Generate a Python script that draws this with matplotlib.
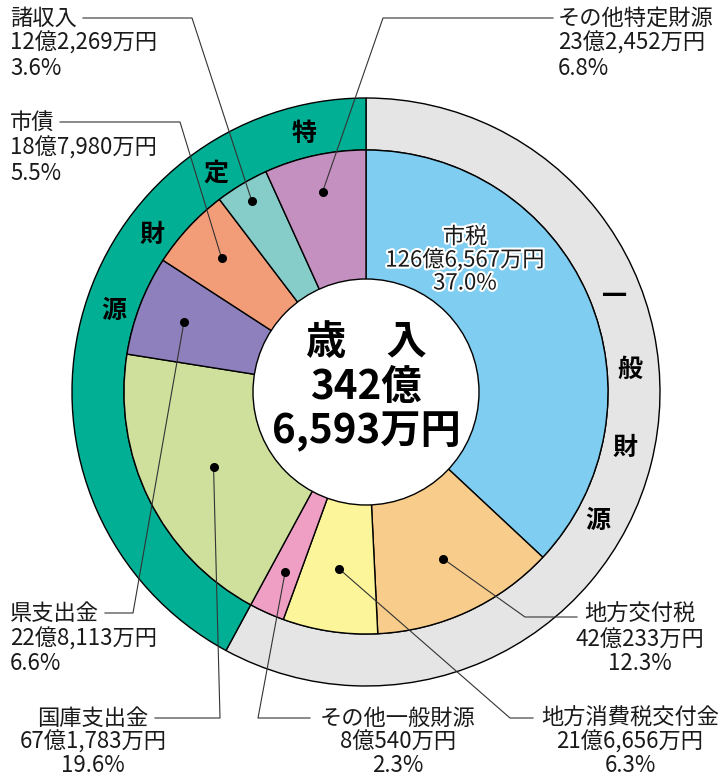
import numpy as np
import matplotlib
matplotlib.use("Agg")
import matplotlib.pyplot as plt
from matplotlib.patches import Circle
import matplotlib.patheffects as pe

plt.rcParams['font.family'] = ['Noto Sans CJK JP', 'DejaVu Sans']

# ---- data ----
categories = ["市税", "地方交付税", "地方消費税交付金", "その他一般財源",
              "国庫支出金", "県支出金", "市債", "諸収入", "その他特定財源"]
amounts_man = [1266567, 420233, 216656, 80540,
               671783, 228113, 187980, 122269, 232452]   # 万円
percents = [37.0, 12.3, 6.3, 2.3, 19.6, 6.6, 5.5, 3.6, 6.8]
groups = ["一般財源", "特定財源"]
group_members = [4, 5]   # first 4 are general, next 5 specific
colors = ["#7FCDF0", "#F8CC8A", "#FDF59A", "#EF9EC4",
          "#CEE09C", "#8E80BC", "#F29D78", "#86CCC8", "#C490C0"]
ring_colors = ["#E5E5E5", "#00AF94"]

W, H = 723, 778
def Y(y):
    return H - y

def fmt_amount(a):
    oku, man = divmod(a, 10000)
    return f"{oku}億{man:,}万円"

total = sum(amounts_man)
group_totals = [sum(amounts_man[:group_members[0]]), sum(amounts_man[group_members[0]:])]

fig = plt.figure(figsize=(W / 100, H / 100), dpi=100)
ax = fig.add_axes([0, 0, 1, 1])

cx, cy = 366, Y(392)
R_out, R_in, R_hole = 294, 242, 113
lw = 1.0

ax.pie(group_totals, radius=R_out, center=(cx, cy), startangle=90, counterclock=False,
       colors=ring_colors, wedgeprops=dict(width=R_out - R_in, edgecolor='black', linewidth=lw))
wedges, _ = ax.pie(amounts_man, radius=R_in, center=(cx, cy), startangle=90, counterclock=False,
                   colors=colors, wedgeprops=dict(edgecolor='black', linewidth=lw))
ax.add_patch(Circle((cx, cy), R_hole, facecolor='white', edgecolor='black', linewidth=lw, zorder=5))

ax.set_xlim(0, W)
ax.set_ylim(0, H)
ax.set_aspect('equal')
ax.axis('off')

tc = '#1a1a1a'
fs = 16

# center text
oku, man = divmod(total, 10000)
center_lines = ["歳　入", f"{oku}億", f"{man:,}万円"]
for txt, yy in zip(center_lines, [342, 387, 432]):
    ax.text(cx, Y(yy), txt, ha='center', va='center', fontsize=29, fontweight='bold',
            color='black', zorder=6)

# ring texts
ring_r = 265
left_chars = ["特", "定", "財", "源"]
left_angles = [103.5, 124.5, 143.7, 162.1]
right_chars = ["一", "般", "財", "源"]
right_angles = [20.9, 4.8, -12.1, -29.1]
for chars, angs in [(left_chars, left_angles), (right_chars, right_angles)]:
    for ch, a in zip(chars, angs):
        t = np.deg2rad(a)
        ax.text(cx + ring_r * np.cos(t), cy + ring_r * np.sin(t), ch, ha='center', va='center',
                fontsize=18, fontweight='bold', color='black', zorder=6)

# wedge mid angles
fr = np.array(amounts_man) / total
ends = 90 - 360 * np.cumsum(fr)
starts = ends + 360 * fr
mids = (starts + ends) / 2

# label layout: (dot radius, elbow(x,y), horizontal end x, text x, ha, line ys)
layout = {
    1: (184, (525, 617), 577, 640, 'center', [614, 640, 664]),
    2: (179, (510, 718), 533, 630, 'center', [718, 742, 766]),
    3: (197, (258, 718), 310, 398, 'center', [718, 742, 766]),
    4: (170, (220, 718), 155, 93, 'center', [718, 742, 766]),
    5: (195, (133, 613), 105, 10, 'left', [613, 639, 664]),
    6: (197, (180, 122), 60, 10, 'left', [122, 148, 173]),
    7: (223, (192, 18), 83, 10, 'left', [18, 43, 68]),
    8: (205, (383, 18), 553, 558, 'left', [18, 43, 68]),
}

for i, (dr, elbow, hx, tx, ha, ys) in layout.items():
    t = np.deg2rad(mids[i])
    dx, dy = cx + dr * np.cos(t), cy + dr * np.sin(t)
    ex, ey = elbow[0], Y(elbow[1])
    ax.plot([dx, ex, hx], [dy, ey, ey], color='#333333', lw=0.8, zorder=7)
    ax.plot([dx], [dy], 'o', color='black', markersize=5.5, zorder=8)
    lines = [categories[i], fmt_amount(amounts_man[i]), f"{percents[i]:.1f}%"]
    for txt, yy in zip(lines, ys):
        ax.text(tx, Y(yy), txt, ha=ha, va='center', fontsize=fs, color=tc, zorder=9)

# 市税 label inside the wedge
lines0 = [categories[0], fmt_amount(amounts_man[0]), f"{percents[0]:.1f}%"]
for txt, yy in zip(lines0, [237, 260, 283]):
    ax.text(465, Y(yy), txt, ha='center', va='center', fontsize=fs, color=tc, zorder=9,
            path_effects=[pe.withStroke(linewidth=3, foreground='white')])

fig.savefig("out.png", dpi=100)
